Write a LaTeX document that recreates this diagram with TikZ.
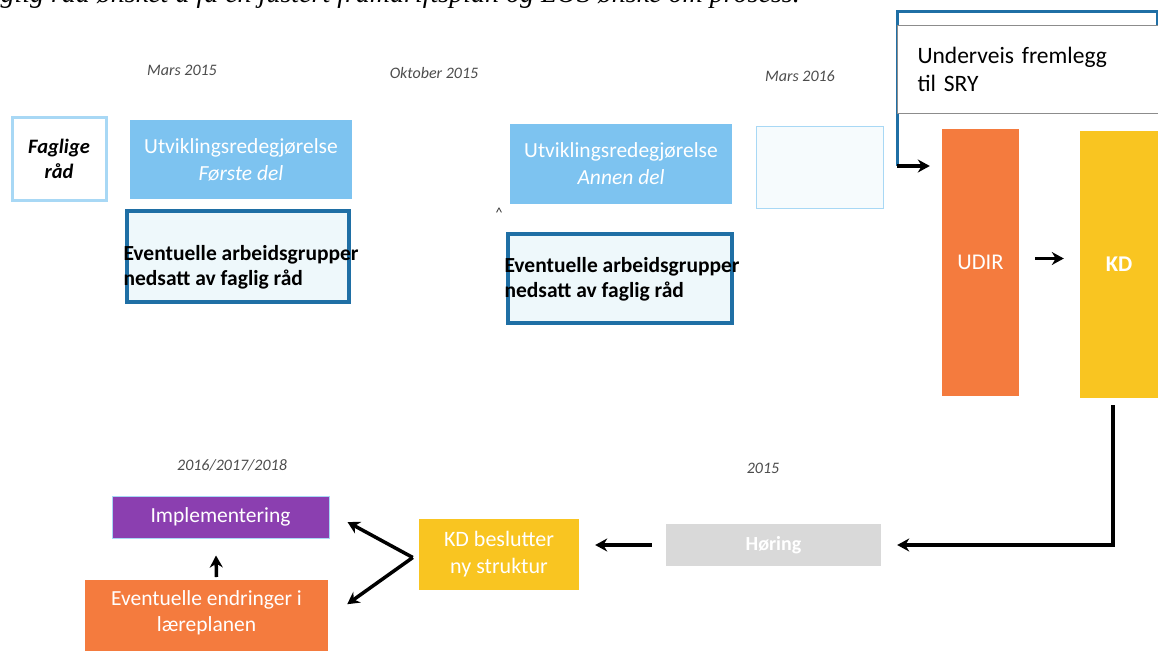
\documentclass[tikz,border=0pt]{standalone}
\usepackage{fontspec}
\setmainfont{Carlito}
\newfontfamily\tittelfont{Liberation Serif}
\usetikzlibrary{arrows.meta}

\definecolor{lysblaa}{HTML}{7DC3F0}
\definecolor{lysramme}{HTML}{A8D8F5}
\definecolor{moerkblaa}{HTML}{1F6FA5}
\definecolor{blek}{HTML}{EEF8FB}
\definecolor{oransje}{HTML}{F47B3E}
\definecolor{gul}{HTML}{F9C521}
\definecolor{graa}{HTML}{D9D9D9}
\definecolor{lilla}{HTML}{8B3FB0}

\tikzset{
  boks/.style={rectangle, inner sep=2pt, align=center, text=white,
    font=\fontsize{21.5}{26}\selectfont},
  arbboks/.style={rectangle, draw=moerkblaa, line width=3.5pt, fill=blek},
  arbtekst/.style={anchor=west, align=left, text=black,
    font=\bfseries\fontsize{21.5}{25}\selectfont},
  dato/.style={text=black!70, font=\itshape\fontsize{16}{18}\selectfont},
  pil/.style={line width=3.5pt, -{Stealth[length=12pt,width=13pt]}},
}

\begin{document}
\begin{tikzpicture}[x=1pt,y=-1pt]
  \useasboundingbox (0,0) rectangle (1158,650);

  % cut-off line of text above the figure
  \node[anchor=base east, inner sep=0pt,
    font=\tittelfont\itshape\fontsize{28}{30}\selectfont] (tittel) at (800,2.5)
    {Faglig råd ønsket å få en justert framdriftsplan og LOS ønske om prosess.};

  % dates
  \node[dato] (dato1) at (182,70) {Mars 2015};
  \node[dato] (dato2) at (434,73) {Oktober 2015};
  \node[dato] (dato3) at (800,76) {Mars 2016};
  \node[dato] (dato4) at (232,465) {2016/2017/2018};
  \node[dato] (dato5) at (763,468) {2015};

  % first row
  \node[boks, draw=lysramme, line width=3pt, fill=white, text=black,
    minimum width=94, minimum height=82,
    font=\bfseries\itshape\fontsize{20.5}{25}\selectfont] (faglig) at (59,159)
    {Faglige\\råd};
  \node[boks, fill=lysblaa, minimum width=222, minimum height=79,
    font=\fontsize{21.5}{27}\selectfont] (utv1) at (241,159.5)
    {Utviklingsredegjørelse\\\textit{Første del}};
  \node[arbboks, minimum width=222, minimum height=91] (arb1) at (238,256.5) {};
  \node[arbtekst] (arb1tekst) at (120,267) {Eventuelle arbeidsgrupper\\nedsatt av faglig råd};

  \node[boks, fill=lysblaa, minimum width=222, minimum height=80,
    font=\fontsize{21.5}{27}\selectfont] (utv2) at (621,164)
    {Utviklingsredegjørelse\\\textit{Annen del}};
  \node[text=black!80, font=\fontsize{14}{16}\selectfont] (hatt) at (499,213) {\textasciicircum};
  \node[arbboks, minimum width=224, minimum height=89] (arb2) at (620,278.5) {};
  \node[arbtekst] (arb2tekst) at (501,279) {Eventuelle arbeidsgrupper\\nedsatt av faglig råd};

  \node[boks, draw=lysramme, line width=1pt, fill=blek!50,
    minimum width=127, minimum height=82] (tom) at (819.5,167) {};

  % presentation to SRY
  \draw[moerkblaa, line width=3pt] (897,12) rectangle (1157,113);
  \node[boks, anchor=north west, draw=black!45, line width=1pt, fill=white, text=black,
    align=left, text width=221, inner xsep=20pt, minimum height=88,
    font=\fontsize{23.5}{28}\selectfont] (sry) at (897,25)
    {Underveis fremlegg\\til SRY};
  \draw[moerkblaa, line width=3pt] (sry.south west) -- ++(0,52) coordinate (knekk);

  % UDIR and KD
  \node[boks, fill=oransje, minimum width=77, minimum height=267,
    font=\fontsize{22.5}{26}\selectfont] (udir) at (980.5,262.5) {UDIR};
  \node[boks, fill=gul, minimum width=78, minimum height=267,
    font=\bfseries\fontsize{22.5}{26}\selectfont] (kd) at (1119,264.5) {KD};
  \draw[pil] (knekk) -- ([xshift=-12]udir.west |- knekk);
  \coordinate (udirut) at ([shift={(16,-4)}]udir.east);
  \draw[pil] (udirut) -- ([xshift=-16]kd.west |- udirut);

  % bottom row
  \node[boks, fill=graa, minimum width=215, minimum height=42,
    font=\bfseries\fontsize{20}{25}\selectfont] (horing) at (773.5,545) {Høring};
  \node[boks, fill=gul, minimum width=160, minimum height=71,
    font=\fontsize{22}{27}\selectfont] (kdb) at (499,554.5)
    {KD beslutter\\ny struktur};
  \node[boks, fill=lilla, draw=lysramme, line width=1pt,
    minimum width=217, minimum height=42] (impl) at (220.5,517) {Implementering};
  \node[boks, anchor=north, fill=oransje, minimum width=243, minimum height=76,
    text depth=14pt] (endr) at (206.5,580) {Eventuelle endringer i\\læreplanen};

  \draw[pil] ([shift={(-6,7)}]kd.south) |- ([xshift=16]horing.east);
  \draw[pil] ([xshift=-14]horing.west) -- ([xshift=16]kdb.east |- horing.west);
  \draw[pil] ([shift={(-6,3)}]kdb.west) -- ([shift={(18,5)}]impl.east);
  \draw[pil] ([shift={(-6,3)}]kdb.west) -- ([shift={(19,-14)}]endr.east);
  \draw[pil] ([shift={(10,-3)}]endr.north) -- ([shift={(-4.5,17)}]impl.south);
\end{tikzpicture}
\end{document}
